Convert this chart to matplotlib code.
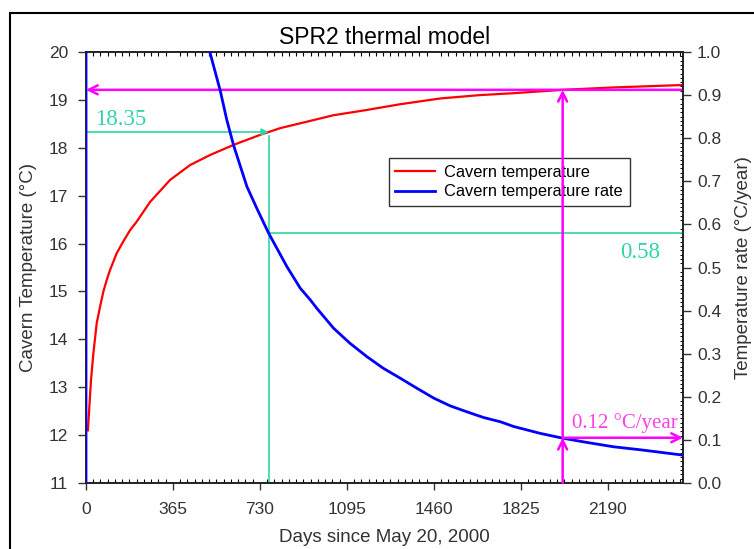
import numpy as np
import matplotlib
matplotlib.use('Agg')
from matplotlib import pyplot as plt
from matplotlib.ticker import MultipleLocator
from matplotlib.patches import Rectangle

# values
temp_days = [8, 21, 31, 45, 59, 73, 87, 101, 129, 157, 185, 213, 269, 353, 437, 521,
             619, 731, 815, 1039, 1179, 1319, 1487, 1653, 1795, 2000, 2214, 2500]
temp_vals = [12.1, 13.15, 13.71, 14.34, 14.68, 15.0, 15.24, 15.45, 15.8, 16.05, 16.28,
             16.46, 16.87, 17.33, 17.64, 17.85, 18.06, 18.27, 18.41, 18.68, 18.79,
             18.91, 19.03, 19.10, 19.14, 19.21, 19.26, 19.31]

rate_days = [0, 4, 480, 521, 563, 591, 619, 675, 717, 766, 843, 899, 941, 969, 1039,
             1108, 1179, 1248, 1319, 1388, 1459, 1528, 1599, 1668, 1739, 1795, 1907,
             2000, 2103, 2214, 2327, 2500]
rate_vals = [0.0, 30.0, 1.10, 0.997, 0.911, 0.842, 0.784, 0.688, 0.637, 0.58, 0.502,
             0.452, 0.425, 0.405, 0.359, 0.324, 0.293, 0.266, 0.243, 0.22, 0.197, 0.179,
             0.165, 0.152, 0.142, 0.131, 0.115, 0.104, 0.094, 0.084, 0.077, 0.065]

x_ticks = [0, 365, 730, 1095, 1460, 1825, 2190]
x_max = 2505

# marked points
mark1_day, mark1_temp, mark1_rate = 766, 18.33, 0.58
mark2_day, mark2_temp, mark2_rate = 2000, 19.21, 0.105

green = '#30d5a5'
magenta = '#ff00ff'
tick_col = '#333333'

plt.rcParams['font.family'] = ['Liberation Sans', 'DejaVu Sans']

fig = plt.figure(figsize=(7.54, 5.49), dpi=100)
ax = fig.add_axes([86/754, 1-483/549, (683-86)/754, (483-52)/549])
ax2 = ax.twinx()

ax.plot(temp_days, temp_vals, color='#ff0000', lw=1.6, label='Cavern temperature')
ax2.plot(rate_days, rate_vals, color='#0000ff', lw=2.0, zorder=3,
         label='Cavern temperature rate')

ax.set_xlim(0, x_max)
ax.set_ylim(11, 20)
ax2.set_ylim(0, 1.0)

ax.set_xticks(x_ticks)
ax.set_yticks(np.arange(11, 21, 1))
ax2.set_yticks(np.arange(0, 1.01, 0.1))
ax2.set_yticklabels(['%.1f' % v for v in np.arange(0, 1.01, 0.1)])
ax.xaxis.set_minor_locator(MultipleLocator(365/12))
ax2.yaxis.set_minor_locator(MultipleLocator(0.01))

ax.tick_params(axis='x', which='major', direction='out', length=5, width=1,
               labelsize=12.5, colors=tick_col, pad=9, top=False)
ax.tick_params(axis='x', which='minor', direction='in', length=3, width=0.8,
               top=True, bottom=True)
ax.tick_params(axis='y', which='major', direction='out', length=6, width=1,
               labelsize=12.5, colors=tick_col, pad=7)
ax2.tick_params(axis='y', which='major', direction='out', length=6, width=1,
                labelsize=12.5, colors=tick_col, pad=4)
ax2.tick_params(axis='y', which='minor', direction='in', length=2, width=0.7)

for a in (ax, ax2):
    for s in a.spines.values():
        s.set_color('#222222')
        s.set_linewidth(1.2)

ax.set_xlabel('Days since May 20, 2000', fontsize=13.5, color='#333333', labelpad=8)
ax.set_ylabel('Cavern Temperature (°C)', fontsize=13.5, color='#333333', labelpad=8)
ax2.set_ylabel('Temperature rate (°C/year)', fontsize=13.5, color='#333333', labelpad=10)
ax.set_title('SPR2 thermal model', fontsize=16.5, pad=6)

# green markers
ax.annotate('', xy=(mark1_day, mark1_temp), xytext=(0, mark1_temp),
            arrowprops=dict(arrowstyle='-|>', color=green, lw=1.2,
                            mutation_scale=10, shrinkA=0, shrinkB=0))
ax.plot([mark1_day, mark1_day], [11, mark1_temp - 0.08], color=green, lw=1.2)
ax2.plot([mark1_day, x_max], [mark1_rate, mark1_rate], color=green, lw=1.2)
ax.text(40, mark1_temp + 0.05, '18.35', color=green, fontsize=16.5,
        family='Liberation Serif', va='bottom', ha='left')
ax2.text(2410, mark1_rate - 0.02, '0.58', color=green, fontsize=16.5,
         family='Liberation Serif', va='top', ha='right')

# magenta markers
arrow_m = dict(arrowstyle='->', color=magenta, lw=1.8, mutation_scale=16,
               shrinkA=0, shrinkB=0)
ax.annotate('', xy=(0, mark2_temp), xytext=(x_max, mark2_temp),
            arrowprops=arrow_m, zorder=6)
ax2.annotate('', xy=(mark2_day, mark2_rate), xytext=(mark2_day, 0),
             arrowprops=arrow_m, zorder=6)
ax2.annotate('', xy=(mark2_day, mark2_temp), xycoords=ax.transData,
             xytext=(mark2_day, mark2_rate), textcoords=ax2.transData,
             arrowprops=arrow_m, zorder=6)
ax2.annotate('', xy=(x_max, mark2_rate), xytext=(mark2_day, mark2_rate),
             arrowprops=arrow_m, zorder=6)
ax2.text(mark2_day + 40, mark2_rate + 0.01, '0.12 °C/year', color='#ff40e8',
         fontsize=15, family='Liberation Serif', va='bottom', ha='left')

h1, l1 = ax.get_legend_handles_labels()
h2, l2 = ax2.get_legend_handles_labels()
leg = ax2.legend(h1 + h2, l1 + l2, loc='upper left', bbox_to_anchor=(0.507, 0.754),
                 borderaxespad=0, fancybox=False, edgecolor='#333333', fontsize=11.8,
                 handlelength=2.4, handletextpad=0.6, labelspacing=0.3, framealpha=1)
leg.get_frame().set_linewidth(1.0)
leg.set_zorder(4)

fig.add_artist(Rectangle((10/754, -0.1), 1.1, 1-13/549+0.1, transform=fig.transFigure,
                         fill=False, lw=1.5, color='black', clip_on=False))

fig.savefig('out.png', dpi=100)
